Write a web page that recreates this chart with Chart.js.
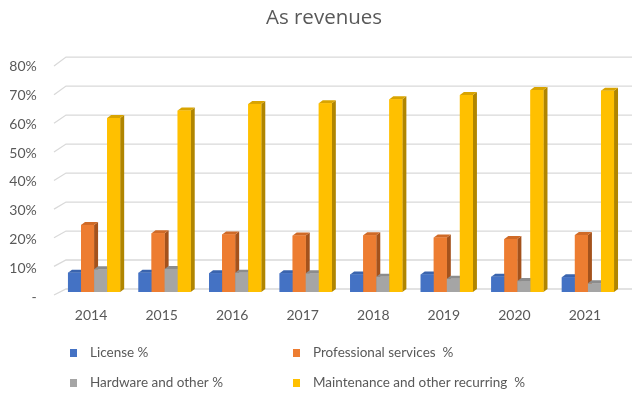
<!DOCTYPE html>
<html>
<head>
<meta charset="utf-8">
<script src="https://cdn.jsdelivr.net/npm/chart.js@4"></script>
<style>
  body { margin: 0; background: #fff; }
  #wrap { width: 641px; height: 397px; }
</style>
</head>
<body>
<div id="wrap"><canvas id="revChart"></canvas></div>
<script>
// values in percent
const years = ['2014', '2015', '2016', '2017', '2018', '2019', '2020', '2021'];
const license = [6.7, 6.7, 6.5, 6.5, 6.1, 6.1, 5.3, 5.1];
const professional = [23.3, 20.4, 20.0, 19.6, 19.7, 18.9, 18.4, 19.8];
const hardware = [7.9, 8.0, 6.7, 6.5, 5.3, 4.6, 3.8, 3.0];
const maintenance = [60.4, 63.0, 65.3, 65.5, 66.9, 68.4, 70.1, 69.9];
const seriesNames = ['License %', 'Professional services  %', 'Hardware and other %', 'Maintenance and other recurring  %'];

const frontColors = ['#4472C4', '#ED7D31', '#A5A5A5', '#FFC000'];
const topColors = ['#3a64ae', '#cf6a27', '#8c8c8c', '#d9a400'];
const sideColors = ['#2c4f8c', '#a4521c', '#737373', '#b08500'];

const textGrey = '#595959';
const depthX = 4, depthY = 3;

// fake 3D: back wall gridlines, bar sides/tops, title and legend
const fake3d = {
    id: 'fake3d',
    beforeDatasetsDraw(chart) {
        const ctx = chart.ctx;
        const y = chart.scales.y;
        ctx.save();
        ctx.strokeStyle = '#d9d9d9';
        ctx.lineWidth = 1.3;
        y.ticks.forEach(t => {
            const py = y.getPixelForValue(t.value);
            const d = 3 + 1.5 * t.value / 80;
            ctx.beginPath();
            ctx.moveTo(54, py + d);
            ctx.lineTo(66, py - d);
            ctx.lineTo(632, py - d);
            ctx.stroke();
        });
        ctx.restore();
    },
    afterDatasetsDraw(chart) {
        const ctx = chart.ctx;
        ctx.save();
        const metas = [0, 1, 2, 3].map(i => chart.getDatasetMeta(i));
        for (let j = 0; j < years.length; j++) {
            metas.forEach((meta, i) => {
                const bar = meta.data[j];
                const p = bar.getProps(['x', 'y', 'base', 'width']);
                const left = p.x - p.width / 2, right = p.x + p.width / 2;
                // side
                ctx.fillStyle = sideColors[i];
                ctx.beginPath();
                ctx.moveTo(right, p.y);
                ctx.lineTo(right + depthX, p.y - depthY);
                ctx.lineTo(right + depthX, p.base - depthY);
                ctx.lineTo(right, p.base);
                ctx.closePath();
                ctx.fill();
                // top
                ctx.fillStyle = topColors[i];
                ctx.beginPath();
                ctx.moveTo(left, p.y);
                ctx.lineTo(left + depthX, p.y - depthY);
                ctx.lineTo(right + depthX, p.y - depthY);
                ctx.lineTo(right, p.y);
                ctx.closePath();
                ctx.fill();
                // front
                ctx.fillStyle = frontColors[i];
                ctx.fillRect(left, p.y, p.width, p.base - p.y);
            });
        }
        ctx.restore();
    },
    afterDraw(chart) {
        const ctx = chart.ctx;
        ctx.save();
        ctx.fillStyle = textGrey;
        ctx.textAlign = 'center';
        ctx.textBaseline = 'middle';
        ctx.font = '20.5px "Open Sans"';
        ctx.fillText('As revenues', 324, 18);

        // legend, two columns
        const cols = [70, 293];
        const rows = [353, 383];
        ctx.textAlign = 'left';
        ctx.font = '13.5px Lato';
        seriesNames.forEach((name, i) => {
            const cx = cols[i % 2];
            const cy = rows[Math.floor(i / 2)];
            ctx.fillStyle = frontColors[i];
            ctx.fillRect(cx, cy - 4, 7, 8);
            ctx.fillStyle = textGrey;
            ctx.fillText(name, cx + 20, cy);
        });
        ctx.restore();
    }
};

const datasets = [license, professional, hardware, maintenance].map((vals, i) => ({
    label: seriesNames[i],
    data: vals,
    backgroundColor: frontColors[i],
    borderWidth: 0
}));

new Chart(document.querySelector('#revChart'), {
    type: 'bar',
    data: { labels: years, datasets: datasets },
    plugins: [fake3d],
    options: {
        responsive: true,
        maintainAspectRatio: false,
        animation: false,
        layout: { padding: { top: 61.6, right: 17.8, left: 0, bottom: 0 } },
        datasets: { bar: { categoryPercentage: 0.74, barPercentage: 1 } },
        plugins: {
            legend: { display: false },
            title: { display: false },
            tooltip: { enabled: false }
        },
        scales: {
            x: {
                grid: { display: false, drawTicks: false },
                border: { display: false },
                ticks: {
                    color: textGrey,
                    font: { family: 'Lato', size: 14 },
                    padding: 15,
                    labelOffset: -3,
                    maxRotation: 0
                },
                afterFit(scale) { scale.height = 105; }
            },
            y: {
                min: 0,
                max: 80,
                grid: { display: false, drawTicks: false },
                border: { display: false },
                ticks: {
                    stepSize: 10,
                    color: textGrey,
                    font: { family: 'Lato', size: 14 },
                    padding: 22,
                    labelOffset: 5,
                    callback: v => v === 0 ? '-' : v + '%'
                },
                afterFit(scale) { scale.width = 58.8; }
            }
        }
    }
});
</script>
</body>
</html>
